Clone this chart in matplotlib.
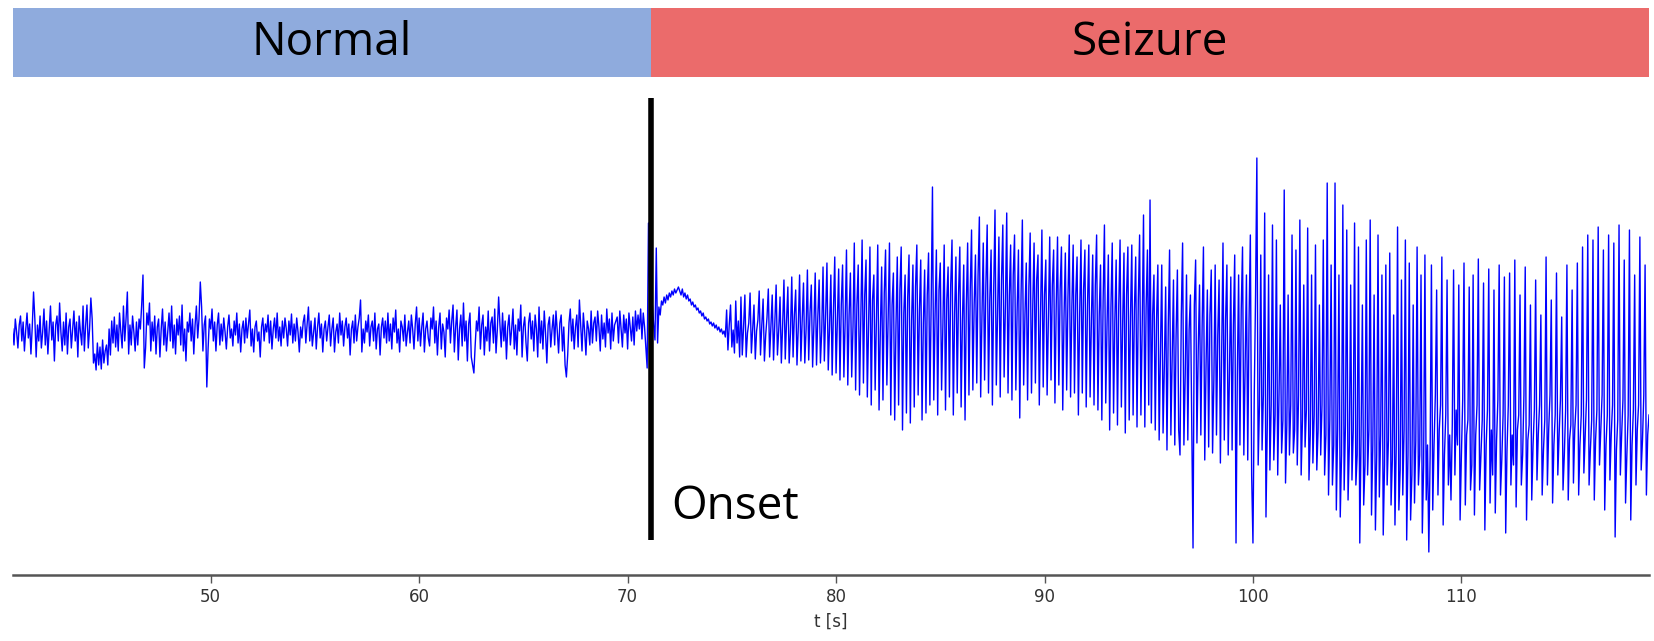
import numpy as np
import matplotlib
matplotlib.use("Agg")
import matplotlib.pyplot as plt

# EEG trace, one sample every 1/16 s starting at 40.5 s
t_start = 40.5
dt = 0.0625

# 40.5 s .. 71.4 s, one row per second
eeg_normal = [
    6, -10, 16, 3, -13, 10, 19, -6, 13, -16, 5, 22, -3, 11, -19, 8,
    43, 16, -22, 10, -6, 19, -13, 3, 26, -10, 14, -19, 6, 29, -5, 13,
    -26, 10, 19, -6, 32, 3, -16, 13, -10, 22, -19, 8, 16, -13, 5, 24,
    -6, 13, -22, 19, 3, -10, 29, -16, 10, 30, -13, 6, 37, 16, -28, -19,
    -35, -8, -30, -12, -34, -5, -28, -16, -10, -30, 6, -20, 14, -8, 18, -12,
    10, -16, 22, 3, -13, 29, -6, 16, 43, -19, 10, -10, 19, 3, -16, 13,
    -10, 16, 6, 30, 60, -33, -13, 22, 10, 32, -16, 13, -6, 19, -19, 8,
    16, -22, 6, 26, -10, 13, -16, 3, 22, -6, 29, -13, 10, -19, 16, 0,
    19, -10, 30, -16, 6, -26, 13, 3, 22, -6, 16, -19, 10, 29, -3, 16,
    53, 28, -16, 10, 19, -52, -13, 16, 6, 26, -6, 13, -16, 10, 22, -10,
    11, -6, 17, 3, -14, 8, 20, -3, 6, -11, 14, 0, 22, -8, 11, -17,
    6, 14, -8, 17, -3, 11, 25, -11, 6, -17, 8, 14, -6, 3, -22, 8,
    17, -6, 11, 3, 20, -8, 14, -14, 6, 17, -3, 22, -6, 8, -11, 14,
    -3, 17, 6, -11, 14, 0, 21, -8, 11, -6, 17, 3, -17, 8, -3, 13,
    20, -8, 11, 28, -6, 14, -11, 3, 17, -14, 8, 22, -3, 11, -17, 6,
    14, -6, 8, 20, -11, 6, 17, -17, 3, 11, -8, 22, 0, 14, -11, 8,
    17, -3, 11, -20, 6, 14, -8, 20, -6, 8, 17, 35, -17, 6, -8, 14,
    3, 20, -11, 8, 14, -6, 22, -14, 6, 11, -20, 8, 17, -3, 14, -8,
    22, -6, 11, -14, 17, 3, 25, -8, 6, -17, 14, 8, -6, 20, -11, 3,
    14, -8, 20, 6, -14, 11, 28, -6, 17, -11, 8, 22, -17, 6, 14, -3,
    -11, 17, 6, 28, -8, 14, -20, 8, 22, -14, 11, 3, -22, 17, 6, 25,
    -8, 14, 30, -17, 8, 25, -25, 6, 20, -11, 32, -6, 14, -26, 11, 22,
    -22, -30, -38, -10, 14, 4, 28, -14, 10, 20, -20, 8, -6, 24, -16, 12,
    18, -8, 26, -18, 6, 38, 10, -12, 22, -6, 14, -24, 8, 20, -10, 6,
    26, -14, 10, -20, 16, 4, 30, -22, 8, 18, -8, -26, 12, 22, -4, 14,
    -16, 20, 6, -22, 28, -8, 14, -14, 24, 2, -28, 10, 18, -12, 6, 20,
    -10, 24, 4, -18, 12, 20, -16, 8, -30, -42, -20, 12, 26, -6, 16, -14,
    8, 20, -12, 35, 10, -16, 22, 4, -20, 14, 6, -10, 24, -8, 12, 18,
    -6, 24, 8, -16, 20, -4, 12, -12, 26, 2, 16, -14, 22, -6, 10, 14,
    18, -8, 24, 6, -12, 20, 2, 16, -14, 22, 8, -6, 18, -10, 24, 4,
    20, 6, 26, -4, 22, 8, -12, -33, 112, 40, 14, 30, 10, -5, 87, -8,
]

# slow wave right after onset, 71.5 s .. 75.4 s
eeg_onset = [
    28, 20, 34, 30, 38, 32, 40, 35, 42, 38, 44, 40, 46, 42, 45, 48,
    44, 40, 46, 38, 42, 36, 40, 34, 36, 30, 33, 28, 30, 25, 27, 22,
    24, 19, 22, 16, 18, 14, 16, 11, 13, 9, 12, 7, 10, 5, 8, 3,
    6, 1, 4, -2, 25, -15, 10, 30, -12, 5, -18, 34, -8, 14, -22, 38,
]

# spike-wave discharge, 75.5 s .. 119 s
eeg_seizure = [
    -20, 8, 40, -22, 2, 12, 42, -18, 6, 30, -24, 4, 15, 44, -20, 10,
    36, -26, 0, 18, 46, -22, 8, 40, -25, 12, 50, -20, 5, 38, -28, 10,
    55, -24, 14, 48, -28, 2, 58, -22, 20, 45, -30, 8, 60, -26, 15, 52,
    -28, 6, 65, -25, 22, 50, -32, 10, 62, -30, 18, 55, -28, 4, 68, -26,
    20, 72, -35, 8, 60, -40, 25, 78, -38, 12, 66, -45, 30, 70, -42, 15,
    85, -50, 20, 62, -42, 8, 92, -55, 30, 70, -60, 15, 95, -48, 40, 75,
    -62, 10, 88, -70, 35, 60, -55, 20, 90, -75, 5, 68, -65, 42, 85, -50,
    18, 92, -80, 30, 62, -85, 10, 78, -70, 45, 88, -95, 22, 60, -78, 38,
    80, -88, 15, 70, -72, 48, 90, -60, 25, 75, -85, 12, 65, -78, 40, 82,
    -70, 30, 148, -65, 20, 85, -80, 45, 72, -55, 10, 90, -75, 35, 68, -62,
    50, 95, -80, 22, 78, -58, 40, 88, -72, 15, 70, -85, 30, 92, -60, 45,
    105, -55, 30, 80, -48, 60, 118, -62, 20, 92, -45, 50, 110, -58, 35, 85,
    -70, 45, 125, -50, 25, 98, -62, 55, 110, -42, 30, 122, -58, 40, 90, -65,
    60, 100, -55, 25, 85, -83, 40, 115, -50, 20, 72, -65, 48, 102, -58, 30,
    92, -48, 55, 80, -70, 25, 105, -52, 40, 75, -60, 18, 98, -45, 50, 85,
    -68, 30, 98, -50, 45, 88, -75, 20, 82, -55, 38, 100, -62, 28, 90, -58,
    40, 78, -80, 22, 95, -58, 45, 85, -72, 30, 90, -62, 15, 80, -70, 50,
    100, -75, 20, 70, -85, 35, 110, -68, 10, 80, -95, 28, 92, -78, 15, 75,
    -90, 30, 95, -72, 12, 82, -98, 40, 88, -85, 18, 90, -80, 25, 78, -92,
    35, 100, -80, 10, 120, -92, 28, 85, -70, 135, -88, 20, 60, -95, 15, 70,
    -105, -20, 70, -98, -30, 48, -115, 10, 85, -100, -25, 55, -110, 0, 65, -95,
    -120, 20, 92, -110, -40, 60, -105, 5, 40, -90, -213, 30, 75, -108, -15, 50,
    -100, 10, 88, -125, -30, 45, -112, 20, 65, -118, -45, 70, -100, 0, 55, -128,
    -20, 92, -105, 15, 70, -120, -35, 58, -115, 10, 80, -208, -40, 60, -110, 25,
    88, -120, -30, 60, -125, 15, 100, -140, -208, -60, 40, 177, -130, -70, 80, -115,
    -60, 122, -182, -90, 60, -135, -70, 110, -125, -80, 95, -140, -60, 30, -118, -85,
    145, -148, -90, 40, -120, -70, 100, -118, -95, 85, -130, -60, 115, -140, -85, 50,
    -112, -75, 107, -145, -100, 60, -128, -80, 90, -135, -95, 30, -120, -70, 95, -140,
    -100, 152, -160, -85, 70, -150, -110, 152, -175, -95, 60, -182, -120, 130, -155, -90,
    105, -165, -110, 50, -145, -95, 112, -150, -120, 88, -208, -100, 30, -170, -130, 95,
    -140, -95, 115, -180, -110, 40, -195, -120, 100, -162, -100, 60, -200, -130, 70, -150,
    -105, 82, -170, -125, 20, -190, -110, 108, -175, -135, 55, -160, -95, 95, -205, -120,
    72, -185, -140, 30, -168, -105, 88, -150, -120, 60, -198, -130, 80, -165, -110, -217,
    -120, 70, -175, -110, -60, 45, -160, -95, -70, 78, -190, -120, -80, 55, -150, -100,
    -165, -90, 65, -140, -75, -110, 50, -185, -120, -65, 72, -170, -100, -85, 48, -155,
    -130, 60, -180, -100, -70, 76, -155, -120, -85, 52, -195, -110, -75, 66, -168, -95,
    -140, 45, -178, -105, -65, 70, -160, -125, -80, 58, -198, -115, -70, 62, -150, -100,
    -130, 75, -172, -95, -80, 40, -150, -120, -60, 68, -185, -105, -90, 30, -165, -110,
    -75, 55, -145, -100, -70, 20, -160, -115, -85, 78, -150, -95, -60, 35, -168, -110,
    -80, 62, -140, -100, -65, 18, -155, -120, -75, 70, -165, -105, -90, 45, -148, -95,
    -70, 72, -160, -110, -80, 88, -138, -100, -65, 100, -150, -115, -85, 95, -165, -105,
    -75, 108, -130, -95, -60, 85, -175, -110, -80, 100, -145, -100, -70, 92, -202, -115,
    -85, 110, -140, -100, -65, 75, -168, -120, -80, 105, -185, -110, -75, 60, -150, -95,
    -70, 98, -135, -105, -60, 70, -160, -100, -80,
]

onset_time = 71.1
x_range = (40.5, 119.0)
phase_names = ["Normal", "Seizure"]
phase_colors = ["#8FABDD", "#EB6B6B"]
x_ticks = [50, 60, 70, 80, 90, 100, 110]

#%% assemble trace
eeg = np.array(eeg_normal + eeg_onset + eeg_seizure, dtype=float)
t = t_start + dt * np.arange(len(eeg))

W, H = 1654, 641
fig = plt.figure(figsize=(W / 100, H / 100), dpi=100)

left = 12.7 / W
width = (1649 - 12.7) / W

# phase banner on top
axb = fig.add_axes([left, (H - 77) / H, width, (77 - 8.4) / H])
bounds = [x_range[0], onset_time, x_range[1]]
for i in range(2):
    axb.barh(0, bounds[i + 1] - bounds[i], left=bounds[i], height=1,
             color=phase_colors[i], edgecolor='none')
    axb.text((bounds[i] + bounds[i + 1]) / 2, 0, phase_names[i],
             ha='center', va='center', fontsize=33, family='Open Sans')
axb.set_xlim(*x_range)
axb.set_ylim(-0.5, 0.5)
axb.axis('off')

# signal
ax = fig.add_axes([left, (H - 575) / H, width, (575 - 85) / H])
ax.plot(t, eeg, color='#0000FF', lw=1.0)
ax.plot([onset_time, onset_time], [237, -205], color='black', lw=4,
        solid_capstyle='butt')
ax.text(72.1, -184, 'Onset', fontsize=33, family='Open Sans',
        ha='left', va='baseline')

ax.set_xlim(*x_range)
ax.set_ylim(-240, 250)
for s in ['top', 'left', 'right']:
    ax.spines[s].set_visible(False)
ax.spines['bottom'].set_color('#555555')
ax.spines['bottom'].set_linewidth(1.8)
ax.set_yticks([])
ax.set_xticks(x_ticks)
ax.tick_params(axis='x', length=6, width=1, color='#555555', pad=3,
               labelsize=12, labelcolor='#333333')
ax.set_xlabel('t [s]', fontsize=12, color='#333333', labelpad=5)

fig.savefig('out.png', dpi=100)
